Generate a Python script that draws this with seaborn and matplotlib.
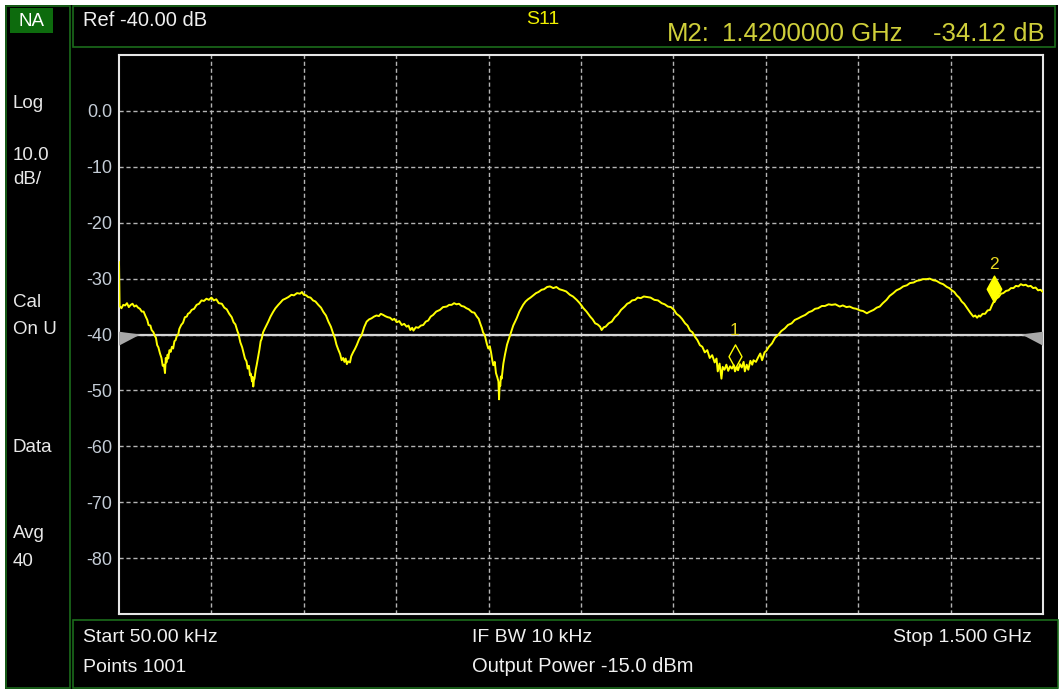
import matplotlib
matplotlib.use("Agg")
import matplotlib.pyplot as plt
import seaborn as sns
from matplotlib.patches import Rectangle, Polygon
from matplotlib.path import Path

# -----------------------------
# DATA (read off the screen capture)
# -----------------------------

freq_ghz = [
    0.00005, 0.001, 0.004, 0.007, 0.010, 0.013, 0.016, 0.019, 0.022, 0.025,
    0.028, 0.031, 0.034, 0.037, 0.040, 0.043, 0.046, 0.048, 0.051, 0.053,
    0.056, 0.058, 0.060, 0.062, 0.064, 0.0666, 0.069, 0.071, 0.073, 0.0747,
    0.076, 0.077, 0.079, 0.080, 0.082, 0.084, 0.086, 0.088, 0.090, 0.092,
    0.094, 0.096, 0.098, 0.101, 0.104, 0.107, 0.110, 0.112, 0.115, 0.118,
    0.122, 0.126, 0.130, 0.134, 0.138, 0.142, 0.146, 0.150, 0.154, 0.158,
    0.162, 0.167, 0.171, 0.175, 0.179, 0.183, 0.186, 0.189, 0.192, 0.194,
    0.197, 0.200, 0.2045, 0.207, 0.209, 0.211, 0.2127, 0.214, 0.216, 0.217,
    0.218, 0.219, 0.220, 0.222, 0.2235, 0.226, 0.228, 0.230, 0.2316, 0.234,
    0.237, 0.2424, 0.246, 0.250, 0.254, 0.2586, 0.262, 0.266, 0.270, 0.275,
    0.280, 0.284, 0.289, 0.294, 0.297, 0.300, 0.304, 0.307, 0.311, 0.315,
    0.319, 0.3236, 0.328, 0.332, 0.336, 0.340, 0.344, 0.347, 0.3506, 0.353,
    0.356, 0.359, 0.3615, 0.364, 0.366, 0.368, 0.370, 0.372, 0.375, 0.377,
    0.380, 0.383, 0.386, 0.390, 0.394, 0.398, 0.402, 0.406, 0.410, 0.414,
    0.418, 0.422, 0.425, 0.429, 0.432, 0.436, 0.440, 0.444, 0.447, 0.451,
    0.455, 0.459, 0.463, 0.467, 0.470, 0.473, 0.476, 0.478, 0.482, 0.486,
    0.490, 0.494, 0.498, 0.502, 0.506, 0.510, 0.515, 0.521, 0.526, 0.532,
    0.536, 0.540, 0.544, 0.548, 0.552, 0.556, 0.560, 0.564, 0.568, 0.573,
    0.577, 0.581, 0.584, 0.586, 0.589, 0.591, 0.594, 0.597, 0.5995, 0.602,
    0.604, 0.606, 0.6076, 0.610, 0.612, 0.614, 0.616, 0.617, 0.618, 0.619,
    0.620, 0.6212, 0.624, 0.6266, 0.630, 0.635, 0.640, 0.6456, 0.650, 0.656,
    0.660, 0.664, 0.668, 0.6726, 0.677, 0.681, 0.686, 0.690, 0.695, 0.6997,
    0.705, 0.710, 0.715, 0.721, 0.726, 0.732, 0.737, 0.743, 0.748, 0.754,
    0.759, 0.765, 0.769, 0.773, 0.777, 0.781, 0.7835, 0.787, 0.790, 0.795,
    0.800, 0.805, 0.810, 0.815, 0.821, 0.825, 0.829, 0.833, 0.838, 0.842,
    0.847, 0.852, 0.857, 0.863, 0.869, 0.875, 0.881, 0.886, 0.891, 0.896,
    0.901, 0.905, 0.910, 0.914, 0.919, 0.923, 0.927, 0.931, 0.935, 0.939,
    0.943, 0.947, 0.951, 0.955, 0.959, 0.963, 0.967, 0.970, 0.972, 0.975,
    0.978, 0.980, 0.983, 0.986, 0.989, 0.992, 0.995, 0.998, 1.000, 1.003,
    1.005, 1.008, 1.011, 1.014, 1.016, 1.019, 1.0216, 1.025, 1.028, 1.030,
    1.034, 1.038, 1.041, 1.044, 1.048, 1.051, 1.055, 1.060, 1.065, 1.070,
    1.075, 1.081, 1.086, 1.092, 1.097, 1.103, 1.108, 1.114, 1.120, 1.125,
    1.130, 1.135, 1.141, 1.146, 1.152, 1.157, 1.163, 1.170, 1.175, 1.181,
    1.186, 1.192, 1.197, 1.203, 1.208, 1.214, 1.219, 1.225, 1.230, 1.235,
    1.240, 1.246, 1.251, 1.257, 1.262, 1.268, 1.273, 1.279, 1.284, 1.290,
    1.295, 1.300, 1.305, 1.311, 1.316, 1.322, 1.327, 1.333, 1.338, 1.344,
    1.348, 1.352, 1.356, 1.360, 1.364, 1.368, 1.372, 1.377, 1.382, 1.387,
    1.390, 1.393, 1.396, 1.398, 1.402, 1.406, 1.410, 1.414, 1.417, 1.420,
    1.424, 1.428, 1.432, 1.4355, 1.440, 1.444, 1.448, 1.452, 1.456, 1.460,
    1.464, 1.468, 1.472, 1.476, 1.480, 1.484, 1.488, 1.492, 1.496, 1.500,
]

s11_db = [
    -27.0, -34.9, -35.3, -34.7, -34.8, -34.4, -35.1, -34.7, -34.5, -35.0,
    -34.8, -35.2, -35.4, -35.9, -35.9, -36.7, -37.4, -38.3, -38.4, -39.2,
    -39.6, -40.2, -40.6, -41.9, -42.3, -43.4, -44.2, -45.6, -45.4, -46.9,
    -44.2, -45.0, -43.6, -44.3, -42.8, -43.1, -42.2, -42.5, -41.2, -41.0,
    -40.2, -40.1, -39.0, -38.3, -37.9, -36.9, -36.8, -36.3, -36.1, -35.6,
    -35.4, -34.7, -34.5, -33.9, -34.0, -33.6, -33.8, -33.4, -33.9, -33.7,
    -34.4, -34.5, -35.2, -35.5, -36.3, -36.9, -37.8, -38.2, -39.3, -39.9,
    -41.4, -42.3, -44.3, -44.8, -46.1, -45.6, -47.3, -47.0, -48.4, -47.6,
    -49.3, -48.2, -47.9, -46.3, -45.5, -43.9, -42.7, -41.2, -40.8, -39.6,
    -38.9, -37.7, -36.8, -36.0, -35.3, -34.7, -34.3, -33.8, -33.6, -33.3,
    -32.9, -33.0, -32.6, -32.7, -32.4, -32.9, -33.0, -33.3, -33.4, -33.9,
    -34.1, -34.7, -35.2, -36.0, -36.6, -37.7, -38.6, -39.6, -40.7, -41.8,
    -42.7, -43.5, -44.6, -44.2, -44.9, -44.3, -45.3, -44.8, -45.0, -43.9,
    -43.2, -42.6, -41.9, -40.8, -40.1, -38.7, -37.7, -37.3, -37.1, -36.8,
    -36.6, -36.7, -36.3, -36.5, -36.7, -36.9, -37.0, -37.4, -37.2, -37.8,
    -37.6, -38.3, -38.1, -38.6, -38.4, -39.2, -38.8, -39.3, -38.7, -38.8,
    -38.4, -38.3, -37.7, -37.5, -36.8, -36.5, -35.9, -35.6, -35.1, -35.0,
    -34.7, -34.7, -34.4, -34.6, -34.5, -34.9, -35.0, -35.3, -35.5, -36.0,
    -36.1, -36.8, -37.2, -37.9, -38.8, -39.6, -40.2, -41.6, -42.5, -42.1,
    -43.2, -44.6, -45.5, -44.9, -46.9, -47.6, -48.4, -51.6, -48.8, -49.2,
    -47.5, -47.9, -45.2, -43.6, -41.8, -40.1, -38.4, -37.1, -35.9, -34.7,
    -34.1, -33.7, -33.4, -33.0, -32.6, -32.4, -32.0, -31.9, -31.5, -31.4,
    -31.7, -31.5, -31.9, -32.1, -32.3, -32.9, -33.2, -33.8, -34.4, -35.3,
    -35.9, -36.8, -37.3, -38.0, -38.2, -38.6, -39.2, -38.7, -38.6, -38.0,
    -37.7, -36.9, -36.4, -35.6, -35.0, -34.5, -34.3, -33.9, -33.8, -33.4,
    -33.5, -33.2, -33.3, -33.4, -33.8, -33.9, -34.4, -34.6, -35.0, -35.1,
    -35.6, -36.3, -36.7, -37.2, -38.0, -38.4, -39.3, -39.6, -40.4, -41.0,
    -41.9, -42.2, -43.2, -42.8, -44.2, -43.7, -45.0, -44.3, -46.6, -45.2,
    -47.9, -45.8, -46.3, -45.4, -46.5, -45.7, -46.1, -45.5, -46.6, -45.8,
    -46.4, -45.3, -45.9, -44.9, -46.6, -45.4, -46.3, -44.7, -45.4, -44.6,
    -44.9, -44.0, -43.4, -44.6, -43.2, -42.9, -42.2, -41.6, -40.6, -40.1,
    -39.4, -38.9, -38.3, -38.0, -37.4, -37.1, -36.8, -36.5, -36.0, -35.8,
    -35.4, -35.3, -34.9, -34.9, -34.6, -34.7, -34.6, -35.0, -34.8, -35.1,
    -35.0, -35.3, -35.4, -35.7, -35.8, -36.2, -35.9, -35.6, -35.2, -35.0,
    -34.4, -33.8, -33.1, -32.6, -32.1, -31.8, -31.4, -31.2, -30.8, -30.7,
    -30.4, -30.3, -30.1, -30.1, -30.0, -30.3, -30.4, -30.8, -31.0, -31.5,
    -31.7, -32.1, -32.4, -33.0, -33.4, -34.1, -34.5, -35.3, -36.1, -36.8,
    -36.6, -37.0, -36.6, -36.8, -36.3, -36.3, -35.7, -35.6, -34.8, -34.12,
    -33.6, -33.3, -32.7, -32.6, -32.2, -32.1, -31.7, -31.7, -31.3, -31.4,
    -31.0, -31.2, -31.1, -31.4, -31.3, -31.7, -31.6, -32.1, -32.0, -32.4,
]

marker_freq = [1.0, 1.42]
marker_db = [-46.0, -34.12]
marker_names = ["1", "2"]

ref_level = -40
ytick_vals = [0, -10, -20, -30, -40, -50, -60, -70, -80]
ytick_labels = ["0.0", "-10", "-20", "-30", "-40", "-50", "-60", "-70", "-80"]
xgrid_ghz = [0.15, 0.30, 0.45, 0.60, 0.75, 0.90, 1.05, 1.20, 1.35]

left_labels = ["Log", "10.0", "dB/", "Cal", "On U", "Data", "Avg", "40"]

# -----------------------------
# STYLE
# -----------------------------

sns.set_style("dark", {"axes.facecolor": "black"})
plt.rcParams["font.family"] = ["Liberation Sans", "DejaVu Sans"]

W, H = 1061, 691


def fx(x):
    return x / W


def fy(y):
    return 1 - y / H


fig = plt.figure(figsize=(W / 100, H / 100), dpi=100)
fig.patch.set_facecolor("white")

green = "#1b6b1b"

# screen background and panel outlines
fig.add_artist(Rectangle((fx(5), fy(689)), fx(1058) - fx(5), fy(5) - fy(689),
                         transform=fig.transFigure, facecolor="black",
                         edgecolor="none", zorder=-2))
for x0, y0, x1, y1 in [(6, 6, 70, 688), (73, 6, 1055, 47), (73, 620, 1058, 688)]:
    fig.add_artist(Rectangle((fx(x0), fy(y1)), fx(x1) - fx(x0), fy(y0) - fy(y1),
                             transform=fig.transFigure, facecolor="none",
                             edgecolor=green, lw=1.2, zorder=-1))
fig.add_artist(Rectangle((fx(10), fy(33)), fx(53) - fx(10), fy(8) - fy(33),
                         transform=fig.transFigure, facecolor="#0d6b0d",
                         edgecolor="none", zorder=-1))

# -----------------------------
# TRACE
# -----------------------------

ax = fig.add_axes([fx(119), fy(614), fx(1043) - fx(119), fy(55) - fy(614)])
ax.set_facecolor("black")

ax.grid(True, color="#b4b4b4", linestyle=(0, (3, 2)), linewidth=1.0)
ax.axhline(ref_level, color="#d4d4d4", lw=1.6, zorder=2)

sns.lineplot(x=freq_ghz, y=s11_db, ax=ax, color="#ffff00", lw=1.4,
             sort=False, estimator=None, zorder=3)

# reference level arrows on both edges
tri_l = Polygon([(0, ref_level + 0.5), (0.023, ref_level), (0, ref_level - 2.0)],
                closed=True, transform=ax.get_yaxis_transform(),
                facecolor="#a8a8a8", edgecolor="none", zorder=4, clip_on=False)
tri_r = Polygon([(1, ref_level + 0.5), (0.977, ref_level), (1, ref_level - 2.0)],
                closed=True, transform=ax.get_yaxis_transform(),
                facecolor="#a8a8a8", edgecolor="none", zorder=4, clip_on=False)
ax.add_patch(tri_l)
ax.add_patch(tri_r)

# markers: diamond sitting on the trace point
diamond = Path([(0, 0), (-0.55, 1), (0, 2), (0.55, 1), (0, 0)])
ax.plot(marker_freq[0], marker_db[0], marker=diamond, ms=34, mfc="none",
        mec="#ffff00", mew=1.0, ls="none", zorder=5)
ax.plot(marker_freq[1], marker_db[1], marker=diamond, ms=38, mfc="#ffff00",
        mec="#ffff00", mew=1.0, ls="none", zorder=5)
for f, d, name in zip(marker_freq, marker_db, marker_names):
    ax.annotate(name, (f, d), xytext=(0, 27), textcoords="offset points",
                ha="center", va="center", color="#e8d820", fontsize=12.5)

ax.set_xlim(0.00005, 1.5)
ax.set_ylim(-90, 10)
ax.set_xticks(xgrid_ghz)
ax.set_xticklabels([])
ax.set_yticks(ytick_vals)
ax.set_yticklabels(ytick_labels)
ax.tick_params(axis="x", length=0)
ax.tick_params(axis="y", length=4, color="#b0b0b0", pad=1,
               labelcolor="#c4ccd6", labelsize=13)
ax.set_xlabel("")
ax.set_ylabel("")
for sp in ax.spines.values():
    sp.set_visible(True)
    sp.set_color("#e6e6e6")
    sp.set_linewidth(1.5)

# -----------------------------
# ANNOTATION TEXT
# -----------------------------

fig.text(fx(31), fy(21), "NA", color="white", fontsize=13.5, ha="center", va="center")

left_y = [104, 155, 180, 302, 330, 447, 534, 562]
for lab, y in zip(left_labels, left_y):
    fig.text(fx(13), fy(y), lab, color="#e8e8e8", fontsize=13.5, va="center")

fig.text(fx(83), fy(20), "Ref -40.00 dB", color="#f0f0f0", fontsize=14.5, va="center")
fig.text(fx(543), fy(20), "S11", color="#f0f000", fontsize=14, ha="center", va="center")
fig.text(fx(667), fy(34), "M2:", color="#cfcf3a", fontsize=18.5, va="center")
fig.text(fx(722), fy(34), "1.4200000 GHz", color="#cfcf3a", fontsize=18.5, va="center")
fig.text(fx(1045), fy(34), "-34.12 dB", color="#cfcf3a", fontsize=18.5, ha="right", va="center")

fig.text(fx(83), fy(637), "Start 50.00 kHz", color="#f0f0f0", fontsize=14, va="center")
fig.text(fx(83), fy(667), "Points 1001", color="#f0f0f0", fontsize=14, va="center")
fig.text(fx(472), fy(637), "IF BW 10 kHz", color="#f0f0f0", fontsize=14, va="center")
fig.text(fx(472), fy(667), "Output Power -15.0 dBm", color="#f0f0f0", fontsize=14.5, va="center")
fig.text(fx(1032), fy(637), "Stop 1.500 GHz", color="#f0f0f0", fontsize=14, ha="right", va="center")

fig.savefig("out.png", dpi=100, facecolor=fig.get_facecolor())
